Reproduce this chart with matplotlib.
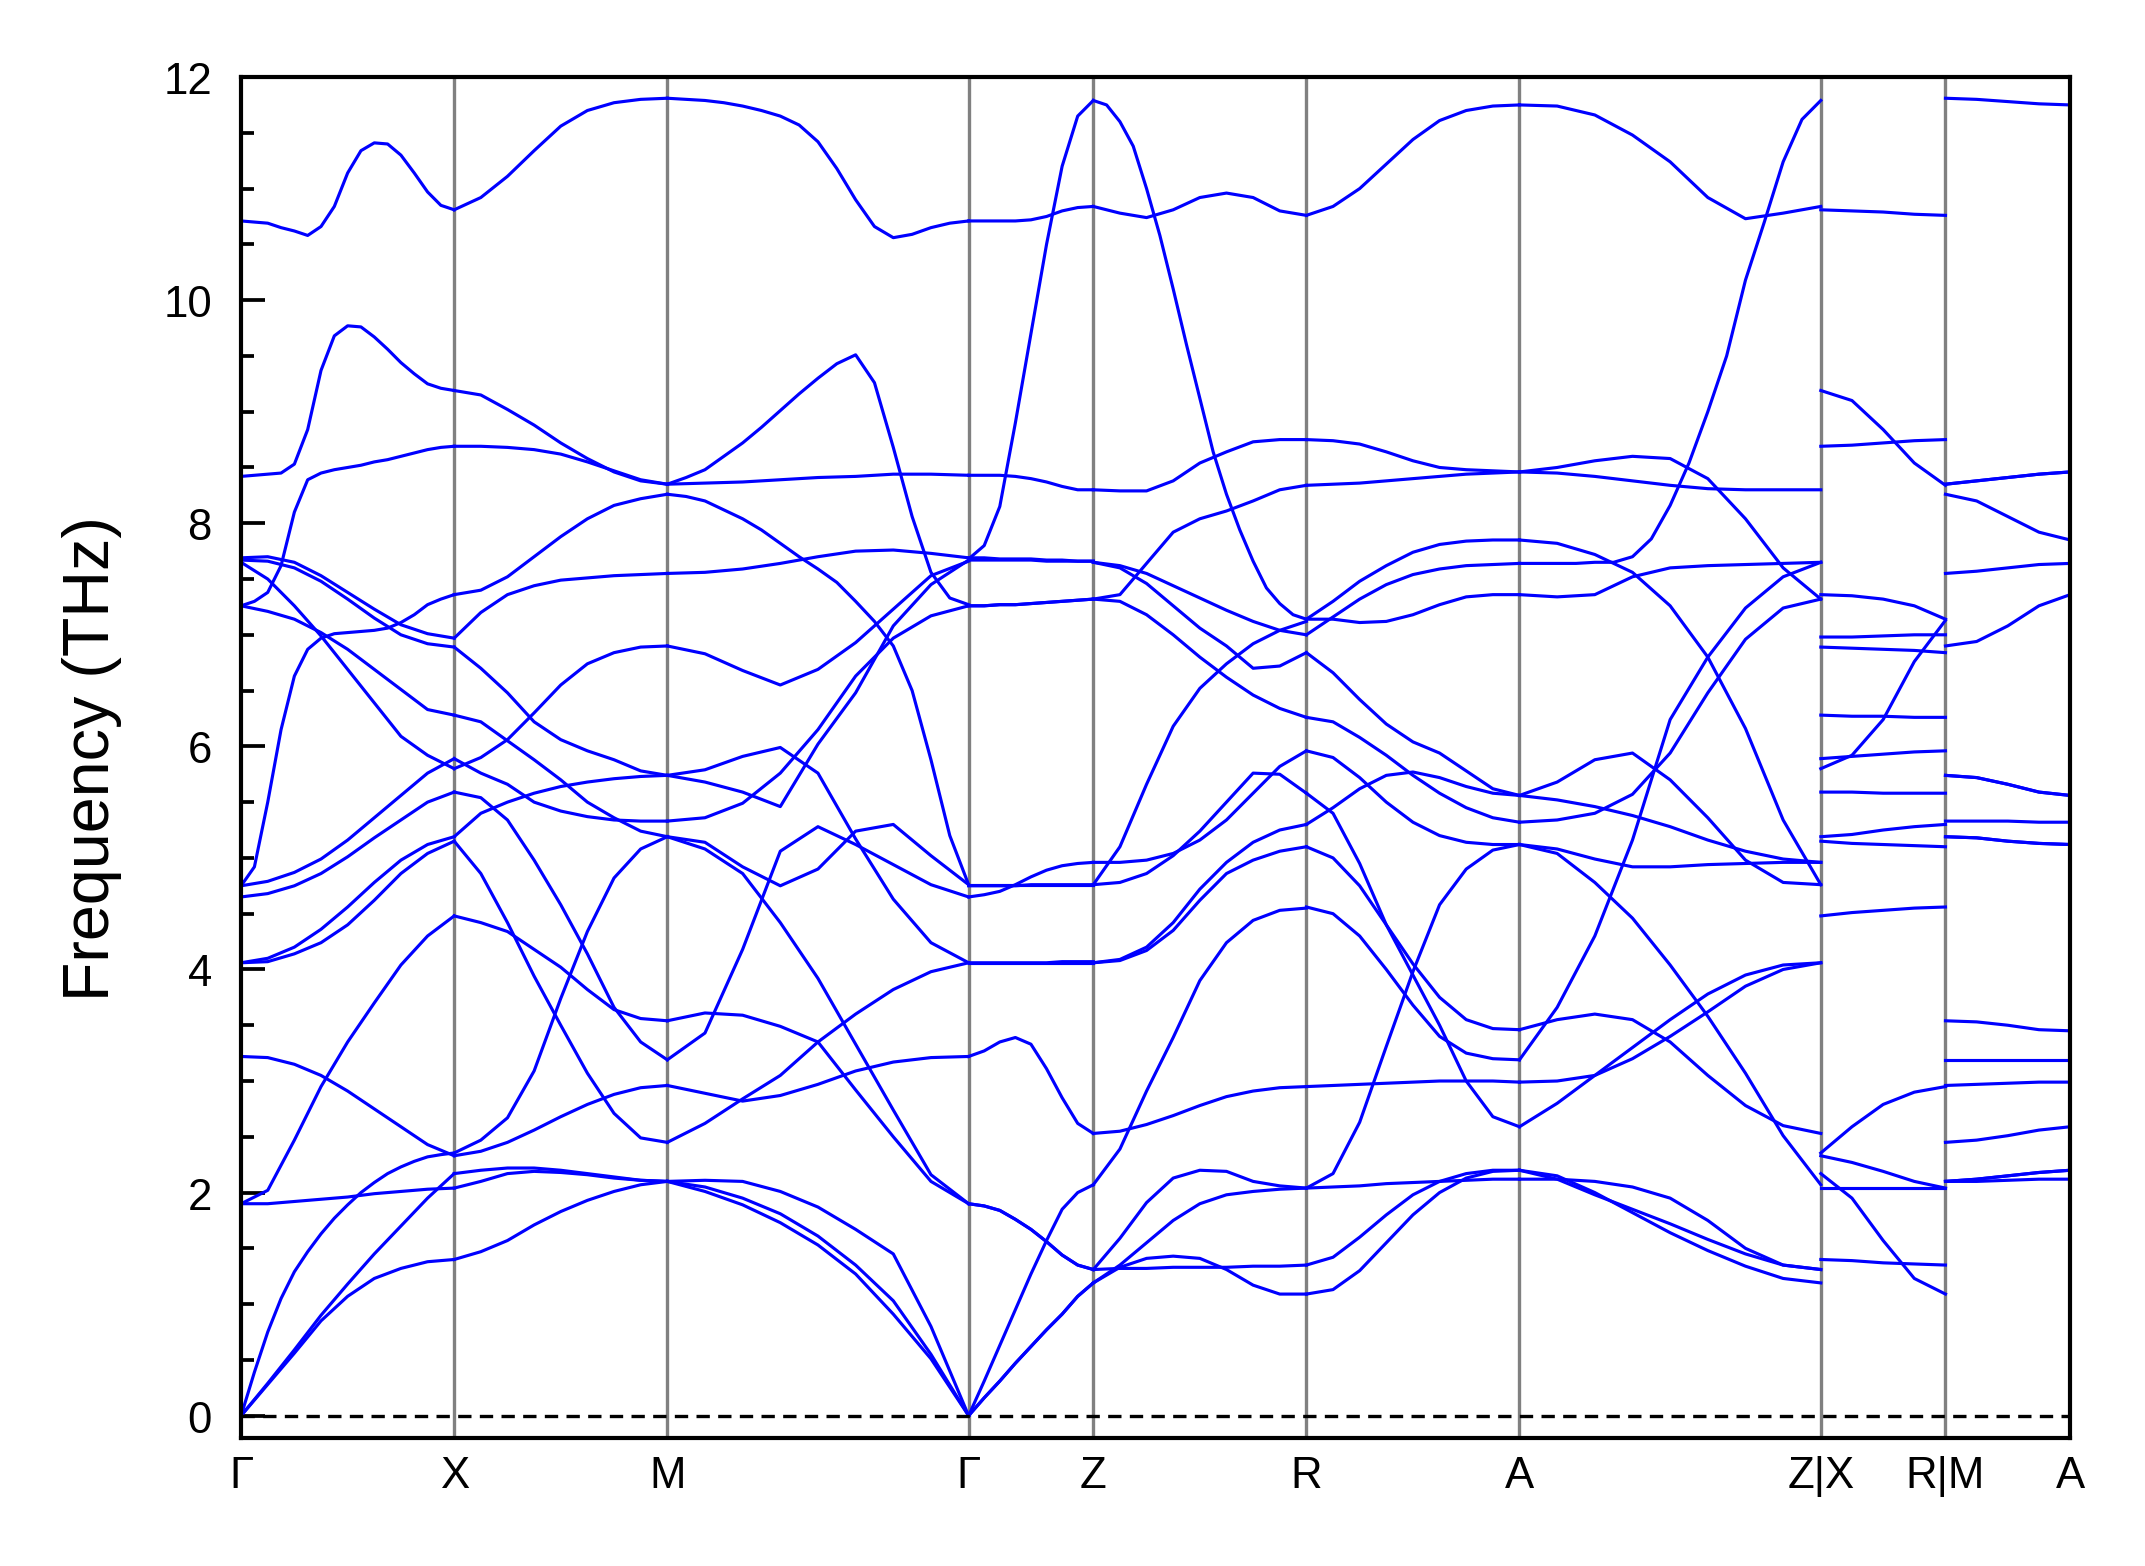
import numpy as np
import matplotlib.pyplot as plt
from matplotlib.ticker import MultipleLocator

plt.rcParams['font.family'] = ['Liberation Sans', 'DejaVu Sans']

# high symmetry points along the path
labels = ['Γ', 'X', 'M', 'Γ', 'Z', 'R', 'A', 'Z|X', 'R|M', 'A']
# path length of each segment (units of 2pi/a)
seg_len = [1.0, 1.0, 1.414, 0.585, 1.0, 1.0, 1.414, 0.585, 0.585]

# frequencies (THz), one row per band; the points of a row are evenly
# spaced along the segment (curvy bands were read at more points)
freq_GX = [
    [10.71, 10.70, 10.69, 10.65, 10.62, 10.58, 10.66, 10.84, 11.14,
     11.34, 11.41, 11.40, 11.30, 11.14, 10.97, 10.85, 10.81],
    [8.42, 8.43, 8.44, 8.45, 8.53, 8.84, 9.37, 9.68, 9.77,
     9.76, 9.67, 9.56, 9.44, 9.34, 9.25, 9.21, 9.19],
    [7.26, 7.30, 7.38, 7.62, 8.10, 8.39, 8.45, 8.48, 8.50,
     8.52, 8.55, 8.57, 8.60, 8.63, 8.66, 8.68, 8.69],
    [4.75, 4.92, 5.50, 6.15, 6.63, 6.87, 6.97, 7.01, 7.02,
     7.03, 7.04, 7.06, 7.11, 7.18, 7.27, 7.32, 7.36],
    [7.69, 7.70, 7.65, 7.53, 7.38, 7.23, 7.09, 7.01, 6.97],
    [7.67, 7.66, 7.60, 7.48, 7.32, 7.15, 7.00, 6.92, 6.89],
    [7.65, 7.50, 7.26, 6.99, 6.69, 6.39, 6.09, 5.92, 5.80],
    [7.26, 7.21, 7.14, 7.02, 6.87, 6.69, 6.51, 6.33, 6.28],
    [4.75, 4.79, 4.87, 4.99, 5.16, 5.36, 5.56, 5.76, 5.89],
    [4.65, 4.68, 4.75, 4.86, 5.01, 5.18, 5.34, 5.50, 5.59],
    [4.06, 4.10, 4.20, 4.36, 4.56, 4.78, 4.98, 5.12, 5.19],
    [4.06, 4.07, 4.14, 4.24, 4.40, 4.62, 4.86, 5.04, 5.15],
    [1.90, 2.02, 2.47, 2.95, 3.35, 3.70, 4.04, 4.30, 4.48],
    [3.22, 3.21, 3.15, 3.05, 2.91, 2.75, 2.59, 2.43, 2.33],
    [0.00, 0.39, 0.75, 1.05, 1.29, 1.47, 1.63, 1.77, 1.89,
     2.00, 2.09, 2.17, 2.23, 2.28, 2.32, 2.34, 2.355],
    [1.90, 1.90, 1.92, 1.94, 1.96, 1.99, 2.01, 2.03, 2.04],
    [0.00, 0.29, 0.59, 0.90, 1.18, 1.45, 1.70, 1.95, 2.17],
    [0.00, 0.28, 0.56, 0.85, 1.07, 1.23, 1.32, 1.38, 1.40],
]

freq_XM = [
    [10.81, 10.92, 11.11, 11.34, 11.56, 11.70, 11.77, 11.80, 11.81],
    [9.19, 9.15, 9.02, 8.88, 8.72, 8.58, 8.46, 8.38, 8.35],
    [8.69, 8.69, 8.68, 8.66, 8.62, 8.55, 8.47, 8.39, 8.35],
    [7.36, 7.40, 7.52, 7.70, 7.88, 8.04, 8.16, 8.22, 8.26],
    [6.97, 7.20, 7.36, 7.44, 7.49, 7.51, 7.53, 7.54, 7.55],
    [6.89, 6.70, 6.48, 6.22, 6.06, 5.96, 5.88, 5.78, 5.74],
    [6.28, 6.22, 6.05, 5.88, 5.70, 5.50, 5.36, 5.24, 5.19],
    [5.80, 5.90, 6.06, 6.30, 6.55, 6.74, 6.84, 6.89, 6.90],
    [5.89, 5.76, 5.66, 5.50, 5.42, 5.37, 5.34, 5.33, 5.33],
    [5.19, 5.40, 5.50, 5.58, 5.64, 5.68, 5.71, 5.73, 5.74],
    [5.59, 5.54, 5.34, 4.98, 4.58, 4.14, 3.66, 3.35, 3.19],
    [5.15, 4.86, 4.42, 3.94, 3.50, 3.07, 2.71, 2.49, 2.45],
    [4.48, 4.42, 4.34, 4.18, 4.02, 3.82, 3.64, 3.56, 3.54],
    [2.355, 2.47, 2.67, 3.09, 3.74, 4.34, 4.82, 5.08, 5.19],
    [2.33, 2.37, 2.45, 2.56, 2.68, 2.79, 2.88, 2.94, 2.96],
    [2.17, 2.20, 2.22, 2.22, 2.20, 2.17, 2.14, 2.11, 2.10],
    [2.04, 2.10, 2.17, 2.19, 2.18, 2.16, 2.13, 2.11, 2.10],
    [1.40, 1.47, 1.57, 1.71, 1.83, 1.93, 2.01, 2.07, 2.10],
]

freq_MG = [
    [11.81, 11.80, 11.79, 11.77, 11.74, 11.70, 11.65, 11.57, 11.42,
     11.18, 10.90, 10.66, 10.56, 10.59, 10.65, 10.69, 10.71],
    [8.35, 8.36, 8.37, 8.39, 8.41, 8.42, 8.44, 8.44, 8.43],
    [8.35, 8.41, 8.48, 8.60, 8.72, 8.86, 9.01, 9.16, 9.30,
     9.43, 9.51, 9.26, 8.68, 8.06, 7.56, 7.33, 7.27],
    [8.26, 8.24, 8.20, 8.12, 8.04, 7.94, 7.82, 7.70, 7.59,
     7.47, 7.30, 7.12, 6.90, 6.50, 5.88, 5.20, 4.76],
    [7.55, 7.56, 7.59, 7.64, 7.70, 7.75, 7.76, 7.73, 7.69],
    [6.90, 6.83, 6.68, 6.55, 6.69, 6.93, 7.23, 7.53, 7.66],
    [5.74, 5.68, 5.59, 5.46, 6.02, 6.48, 7.08, 7.45, 7.67],
    [5.74, 5.79, 5.91, 5.99, 5.76, 5.17, 4.63, 4.24, 4.06],
    [5.33, 5.36, 5.49, 5.76, 6.15, 6.63, 6.97, 7.17, 7.26],
    [5.19, 5.14, 4.92, 4.75, 4.90, 5.24, 5.30, 5.02, 4.76],
    [3.19, 3.43, 4.18, 5.06, 5.28, 5.12, 4.94, 4.76, 4.65],
    [5.19, 5.08, 4.86, 4.42, 3.92, 3.33, 2.74, 2.16, 1.90],
    [3.54, 3.61, 3.59, 3.49, 3.35, 2.92, 2.50, 2.10, 1.90],
    [2.96, 2.89, 2.82, 2.87, 2.97, 3.09, 3.17, 3.21, 3.22],
    [2.45, 2.62, 2.84, 3.05, 3.35, 3.60, 3.82, 3.98, 4.06],
    [2.10, 2.11, 2.10, 2.01, 1.87, 1.67, 1.45, 0.80, 0.00],
    [2.10, 2.05, 1.95, 1.81, 1.61, 1.35, 1.03, 0.55, 0.00],
    [2.10, 2.01, 1.89, 1.73, 1.53, 1.27, 0.91, 0.51, 0.00],
]

freq_GZ = [
    [10.71, 10.71, 10.71, 10.71, 10.72, 10.75, 10.80, 10.83, 10.84],
    [7.68, 7.80, 8.15, 8.90, 9.70, 10.50, 11.20, 11.65, 11.79],
    [8.43, 8.43, 8.43, 8.42, 8.40, 8.37, 8.33, 8.30, 8.30],
    [7.69, 7.69, 7.68, 7.68, 7.68, 7.67, 7.67, 7.66, 7.66],
    [7.67, 7.67, 7.67, 7.67, 7.67, 7.66, 7.66, 7.66, 7.66],
    [7.26, 7.26, 7.27, 7.27, 7.28, 7.29, 7.30, 7.31, 7.32],
    [7.26, 7.26, 7.27, 7.27, 7.28, 7.29, 7.30, 7.31, 7.32],
    [4.76, 4.76, 4.76, 4.76, 4.76, 4.76, 4.76, 4.76, 4.76],
    [4.75, 4.75, 4.75, 4.75, 4.76, 4.76, 4.76, 4.76, 4.76],
    [4.65, 4.67, 4.70, 4.76, 4.83, 4.89, 4.93, 4.95, 4.96],
    [4.06, 4.06, 4.06, 4.06, 4.06, 4.06, 4.06, 4.06, 4.06],
    [4.06, 4.06, 4.06, 4.06, 4.06, 4.06, 4.07, 4.07, 4.07],
    [3.22, 3.27, 3.35, 3.39, 3.33, 3.11, 2.85, 2.62, 2.53],
    [1.90, 1.88, 1.84, 1.76, 1.67, 1.56, 1.44, 1.35, 1.31],
    [1.90, 1.88, 1.84, 1.76, 1.67, 1.56, 1.44, 1.35, 1.31],
    [0.00, 0.31, 0.63, 0.95, 1.27, 1.57, 1.85, 2.00, 2.07],
    [0.00, 0.16, 0.31, 0.47, 0.62, 0.77, 0.91, 1.07, 1.19],
    [0.00, 0.16, 0.31, 0.47, 0.62, 0.77, 0.91, 1.07, 1.19],
]

freq_ZR = [
    [11.79, 11.75, 11.60, 11.38, 11.00, 10.58, 10.10, 9.60, 9.12,
     8.64, 8.26, 7.94, 7.66, 7.42, 7.28, 7.18, 7.14],
    [10.84, 10.78, 10.74, 10.81, 10.92, 10.96, 10.92, 10.80, 10.76],
    [8.30, 8.29, 8.29, 8.38, 8.54, 8.64, 8.73, 8.75, 8.75],
    [7.65, 7.62, 7.55, 7.44, 7.33, 7.22, 7.12, 7.04, 7.00],
    [7.65, 7.60, 7.46, 7.26, 7.06, 6.90, 6.70, 6.72, 6.84],
    [7.32, 7.36, 7.64, 7.92, 8.04, 8.11, 8.20, 8.30, 8.34],
    [7.32, 7.30, 7.18, 7.00, 6.80, 6.62, 6.46, 6.34, 6.26],
    [4.76, 5.10, 5.66, 6.18, 6.52, 6.74, 6.92, 7.04, 7.12],
    [2.07, 2.39, 2.91, 3.39, 3.90, 4.24, 4.44, 4.53, 4.55],
    [2.53, 2.55, 2.61, 2.69, 2.78, 2.86, 2.91, 2.94, 2.95],
    [4.06, 4.08, 4.17, 4.35, 4.62, 4.86, 4.98, 5.06, 5.10],
    [4.06, 4.09, 4.20, 4.42, 4.72, 4.96, 5.14, 5.25, 5.30],
    [4.96, 4.96, 4.98, 5.04, 5.16, 5.34, 5.58, 5.82, 5.96],
    [4.76, 4.78, 4.86, 5.02, 5.24, 5.50, 5.76, 5.75, 5.58],
    [1.31, 1.32, 1.32, 1.33, 1.33, 1.33, 1.34, 1.34, 1.35],
    [1.19, 1.33, 1.41, 1.43, 1.41, 1.31, 1.17, 1.09, 1.09],
    [1.19, 1.35, 1.55, 1.75, 1.90, 1.98, 2.01, 2.03, 2.04],
    [1.31, 1.59, 1.91, 2.13, 2.20, 2.19, 2.10, 2.06, 2.04],
]

freq_RA = [
    [10.76, 10.84, 11.00, 11.22, 11.44, 11.61, 11.70, 11.74, 11.75],
    [8.75, 8.74, 8.71, 8.64, 8.56, 8.50, 8.48, 8.47, 8.46],
    [8.34, 8.35, 8.36, 8.38, 8.40, 8.42, 8.44, 8.45, 8.46],
    [7.14, 7.14, 7.11, 7.12, 7.18, 7.27, 7.34, 7.36, 7.36],
    [7.14, 7.30, 7.48, 7.62, 7.74, 7.81, 7.84, 7.85, 7.85],
    [7.00, 7.16, 7.32, 7.45, 7.54, 7.59, 7.62, 7.63, 7.64],
    [6.84, 6.66, 6.42, 6.20, 6.04, 5.94, 5.78, 5.62, 5.56],
    [6.26, 6.22, 6.08, 5.92, 5.74, 5.58, 5.45, 5.36, 5.32],
    [5.96, 5.90, 5.72, 5.50, 5.32, 5.20, 5.14, 5.12, 5.12],
    [5.30, 5.45, 5.62, 5.74, 5.77, 5.72, 5.64, 5.58, 5.56],
    [5.58, 5.40, 4.95, 4.40, 3.95, 3.50, 3.00, 2.68, 2.59],
    [5.10, 5.00, 4.75, 4.40, 4.05, 3.75, 3.55, 3.47, 3.46],
    [4.56, 4.50, 4.30, 4.00, 3.68, 3.40, 3.25, 3.20, 3.19],
    [2.95, 2.96, 2.97, 2.98, 2.99, 3.00, 3.00, 3.00, 2.99],
    [2.04, 2.17, 2.63, 3.31, 3.98, 4.58, 4.90, 5.07, 5.12],
    [2.04, 2.05, 2.06, 2.08, 2.09, 2.10, 2.11, 2.12, 2.12],
    [1.35, 1.42, 1.60, 1.80, 1.98, 2.10, 2.17, 2.20, 2.20],
    [1.09, 1.13, 1.30, 1.55, 1.80, 2.00, 2.13, 2.19, 2.20],
]

freq_AZ = [
    [11.75, 11.74, 11.66, 11.48, 11.24, 10.92, 10.73, 10.78, 10.84],
    [8.46, 8.45, 8.42, 8.38, 8.34, 8.31, 8.30, 8.30, 8.30],
    [8.46, 8.50, 8.56, 8.60, 8.58, 8.40, 8.04, 7.60, 7.32],
    [7.64, 7.64, 7.64, 7.64, 7.65, 7.65, 7.70, 7.86, 8.16,
     8.54, 9.00, 9.50, 10.18, 10.70, 11.24, 11.62, 11.79],
    [3.19, 3.66, 4.30, 5.16, 6.24, 6.80, 7.24, 7.52, 7.65],
    [7.36, 7.34, 7.36, 7.52, 7.60, 7.62, 7.63, 7.64, 7.65],
    [7.85, 7.82, 7.72, 7.56, 7.26, 6.80, 6.16, 5.34, 4.76],
    [5.56, 5.68, 5.88, 5.94, 5.70, 5.36, 4.98, 4.78, 4.76],
    [5.56, 5.52, 5.46, 5.38, 5.28, 5.16, 5.06, 4.99, 4.96],
    [5.32, 5.34, 5.40, 5.57, 5.94, 6.48, 6.96, 7.24, 7.32],
    [5.12, 5.08, 4.99, 4.92, 4.92, 4.94, 4.95, 4.96, 4.96],
    [5.12, 5.04, 4.78, 4.46, 4.04, 3.58, 3.07, 2.51, 2.07],
    [3.46, 3.55, 3.60, 3.55, 3.35, 3.05, 2.78, 2.60, 2.53],
    [2.99, 3.00, 3.05, 3.20, 3.40, 3.62, 3.85, 4.00, 4.06],
    [2.59, 2.80, 3.05, 3.30, 3.55, 3.78, 3.95, 4.04, 4.06],
    [2.20, 2.15, 2.00, 1.82, 1.64, 1.48, 1.34, 1.23, 1.19],
    [2.20, 2.12, 1.98, 1.85, 1.72, 1.58, 1.45, 1.35, 1.31],
    [2.12, 2.12, 2.10, 2.05, 1.95, 1.75, 1.50, 1.35, 1.31],
]

freq_XR = [
    [10.81, 10.80, 10.79, 10.77, 10.76],
    [9.19, 9.10, 8.84, 8.54, 8.34],
    [8.69, 8.70, 8.72, 8.74, 8.75],
    [7.36, 7.35, 7.32, 7.26, 7.14],
    [6.98, 6.98, 6.99, 7.00, 7.00],
    [6.89, 6.88, 6.87, 6.86, 6.84],
    [6.28, 6.27, 6.27, 6.26, 6.26],
    [5.89, 5.91, 5.93, 5.95, 5.96],
    [5.80, 5.92, 6.24, 6.76, 7.13],
    [5.59, 5.59, 5.58, 5.58, 5.58],
    [5.19, 5.21, 5.25, 5.28, 5.30],
    [5.15, 5.13, 5.12, 5.11, 5.10],
    [4.48, 4.51, 4.53, 4.55, 4.56],
    [2.355, 2.59, 2.79, 2.90, 2.95],
    [2.33, 2.27, 2.19, 2.10, 2.04],
    [2.17, 1.95, 1.57, 1.23, 1.09],
    [2.04, 2.04, 2.04, 2.04, 2.04],
    [1.40, 1.39, 1.37, 1.36, 1.35],
]

freq_MA = [
    [11.81, 11.80, 11.78, 11.76, 11.75],
    [8.35, 8.38, 8.41, 8.44, 8.46],
    [8.35, 8.38, 8.41, 8.44, 8.46],
    [8.26, 8.20, 8.06, 7.92, 7.85],
    [7.55, 7.57, 7.60, 7.63, 7.64],
    [6.90, 6.94, 7.08, 7.26, 7.36],
    [5.74, 5.72, 5.66, 5.59, 5.56],
    [5.74, 5.72, 5.66, 5.59, 5.56],
    [5.33, 5.33, 5.33, 5.32, 5.32],
    [5.19, 5.18, 5.15, 5.13, 5.12],
    [5.19, 5.18, 5.15, 5.13, 5.12],
    [3.54, 3.53, 3.50, 3.46, 3.45],
    [3.19, 3.19, 3.19, 3.19, 3.19],
    [2.96, 2.97, 2.98, 2.99, 2.99],
    [2.45, 2.47, 2.51, 2.56, 2.59],
    [2.10, 2.12, 2.15, 2.18, 2.20],
    [2.10, 2.12, 2.15, 2.18, 2.20],
    [2.10, 2.10, 2.11, 2.12, 2.12],
]

segments = [freq_GX, freq_XM, freq_MG, freq_GZ, freq_ZR, freq_RA,
            freq_AZ, freq_XR, freq_MA]

fig = plt.figure(figsize=(7.15, 5.2233), dpi=300)
ax = fig.add_axes([0.1124, 0.0817, 0.8527, 0.8685])

ticks = np.concatenate([[0.0], np.cumsum(seg_len)])

# vertical lines at the high symmetry points
for xt in ticks[1:-1]:
    ax.axvline(xt, color='grey', lw=0.8, zorder=1)

start = 0.0
for seg, L in zip(segments, seg_len):
    for band in seg:
        x = start + np.linspace(0, L, len(band))
        ax.plot(x, band, color='blue', lw=0.75, zorder=2)
    start += L

ax.axhline(0, color='black', ls=(0, (4, 2.5)), lw=0.8, zorder=3)

ax.set_xlim(0, ticks[-1])
ax.set_ylim(-0.2, 12)
ax.set_xticks(ticks)
ax.set_xticklabels(labels)
ax.set_yticks(np.arange(0, 13, 2))
ax.yaxis.set_minor_locator(MultipleLocator(0.5))
ax.tick_params(axis='x', length=0, pad=4, labelsize=10.5)
ax.tick_params(axis='y', which='major', direction='in', length=5.8, width=0.9,
               pad=7, labelsize=10.5)
ax.tick_params(axis='y', which='minor', direction='in', length=3, width=0.9)
for sp in ax.spines.values():
    sp.set_linewidth(1.0)
ax.set_ylabel('Frequency (THz)', fontsize=15.5, labelpad=10)

fig.savefig('out.png', dpi=300)
